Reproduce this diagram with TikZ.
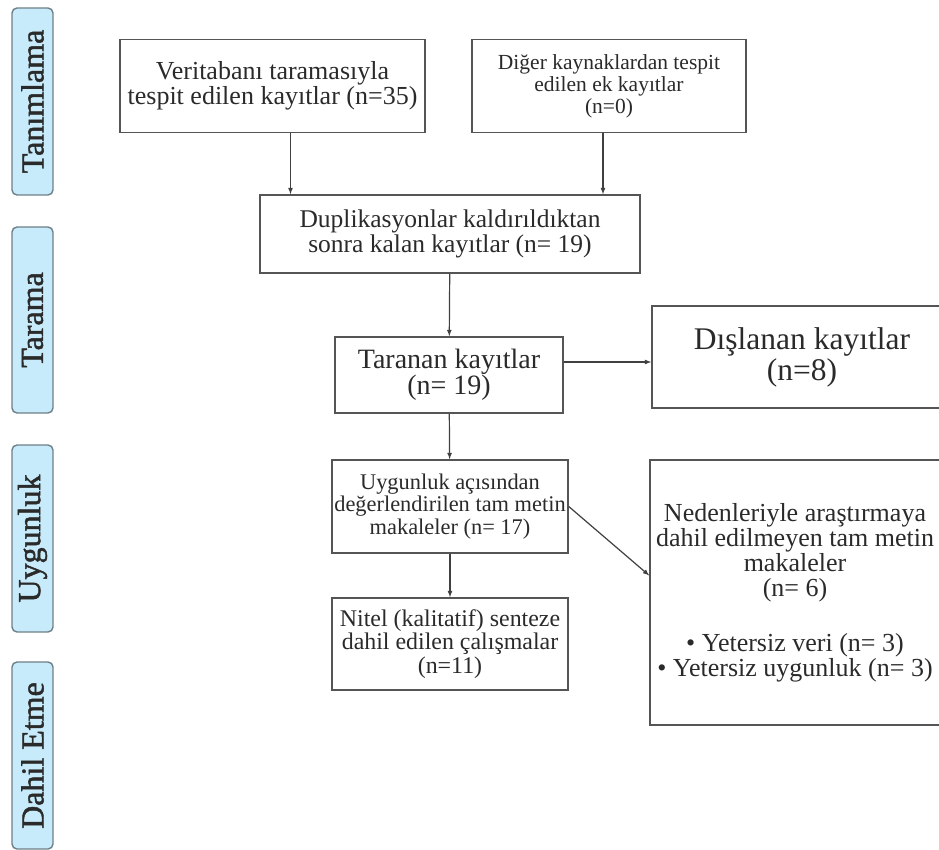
\documentclass[tikz,border=0pt]{standalone}
\usepackage{fontspec}
\setmainfont{Liberation Serif}
\newfontfamily\phasefont{Liberation Serif}[FakeBold=1.5]
\usepackage{tikz}
\usetikzlibrary{arrows}
\definecolor{phasefill}{HTML}{C7EBFA}
\definecolor{phaseline}{HTML}{6E8088}
\definecolor{boxline}{HTML}{555555}
\definecolor{ink}{HTML}{2A2A2A}

\begin{document}
\begin{tikzpicture}[
    x=1pt, y=-1pt,
    phase/.style=
        {draw=phaseline, fill=phasefill, rounded corners=5pt, line width=1.4pt,
         rotate=90, minimum width=187pt, minimum height=41pt, inner sep=0pt,
         text=ink, font=\phasefont\fontsize{32}{36}\selectfont},
    box/.style=
        {draw=boxline, line width=1.5pt, align=center, inner sep=2pt, text=ink},
    flow/.style={-latex, line width=1.2pt, draw=black!75}]
    \useasboundingbox (0,0) rectangle (939,850);
    % side labels
    \node [phase] (tanim) at (32.5,101.5) {Tanımlama};
    \node [phase, minimum width=186pt] (tarama) at (32.5,320) {Tarama};
    \node [phase] (uygun) at (32.5,538.5) {Uygunluk};
    \node [phase] (dahil) at (32.5,755.5) {Dahil Etme};
    % boxes
    \node [box, minimum width=305pt, minimum height=93pt,
        font=\fontsize{26}{25}\selectfont] (veri) at (272.5,86)
        {Veritabanı taramasıyla\\tespit edilen kayıtlar (n=35)};
    \node [box, minimum width=274pt, minimum height=93pt,
        font=\fontsize{21.5}{22}\selectfont] (diger) at (609,86)
        {Diğer kaynaklardan tespit\\edilen ek kayıtlar\\(n=0)};
    \node [box, minimum width=380pt, minimum height=78pt,
        font=\fontsize{25.5}{25}\selectfont] (dup) at (450,234)
        {Duplikasyonlar kaldırıldıktan\\sonra kalan kayıtlar (n= 19)};
    \node [box, minimum width=228pt, minimum height=76pt,
        font=\fontsize{28}{26}\selectfont] (tar) at (449,375)
        {Taranan kayıtlar\\(n= 19)};
    \node [box, minimum width=300pt, minimum height=102pt,
        font=\fontsize{31.5}{31}\selectfont] (dis) at (802,357)
        {Dışlanan kayıtlar\\(n=8)};
    \node [box, minimum width=236pt, minimum height=93pt,
        font=\fontsize{22.4}{22.5}\selectfont] (uyg) at (450,506.5)
        {Uygunluk açısından\\değerlendirilen tam metin\\makaleler (n= 17)};
    \node [box, minimum width=236pt, minimum height=92pt,
        font=\fontsize{23.9}{23.5}\selectfont] (nit) at (450,644)
        {Nitel (kalitatif) senteze\\dahil edilen çalışmalar\\(n=11)};
    \node [box, minimum width=290pt, minimum height=265pt,
        font=\fontsize{26}{25}\selectfont] (ned) at (795,592.5)
        {Nedenleriyle araştırmaya\\dahil edilmeyen tam metin\\makaleler\\(n= 6)\\[30pt]
         • Yetersiz veri (n= 3)\\• Yetersiz uygunluk (n= 3)};
    % connectors
    \draw [flow] ([xshift=18pt]veri.south) -- ([xshift=18pt]veri.south |- dup.north);
    \draw [flow] ([xshift=-6pt]diger.south) -- ([xshift=-6pt]diger.south |- dup.north);
    \draw [flow] (dup) -- (tar);
    \draw [flow] ([yshift=13pt]tar.east) -- ([yshift=13pt]tar.east -| dis.west);
    \draw [flow] (tar) -- (uyg);
    \draw [flow] (uyg) -- (nit);
    \draw [flow] (uyg.east) -- ([yshift=17pt]ned.west);
\end{tikzpicture}
\end{document}
